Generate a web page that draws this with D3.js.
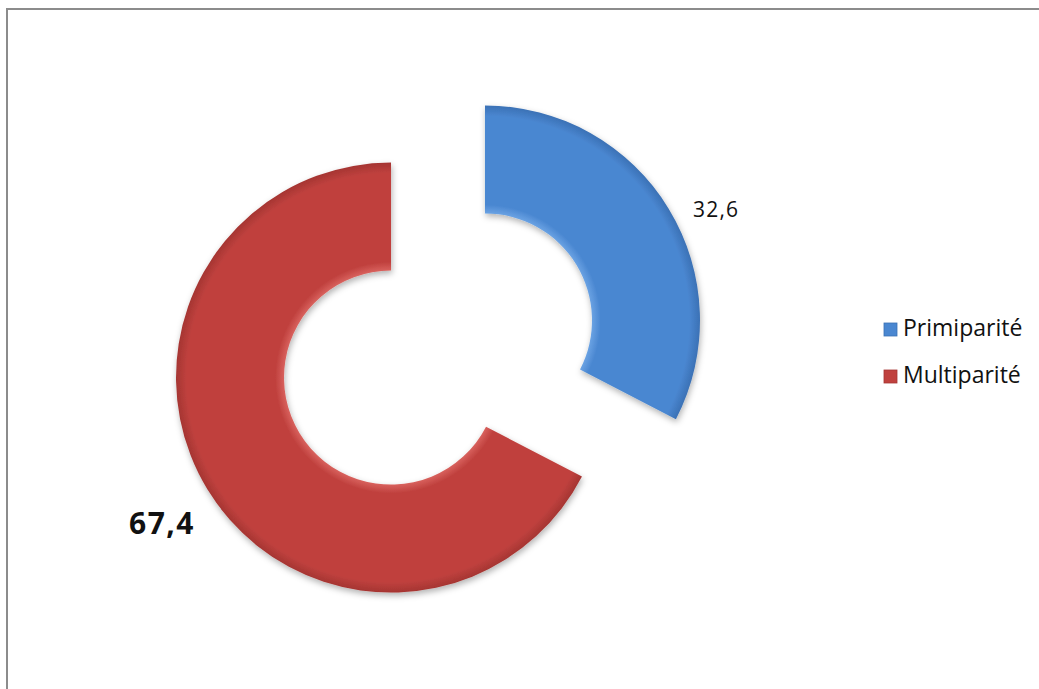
<!DOCTYPE html>
<html>
<head>
<meta charset="utf-8">
<script src="https://cdn.jsdelivr.net/npm/d3@7"></script>
<style>
  html, body { margin: 0; padding: 0; background: #fff; }
  svg { display: block; }
</style>
</head>
<body>
<svg id="chart" width="1039" height="689"></svg>
<script>
const categories = ["Primiparité", "Multiparité"];
const values = [32.6, 67.4];
const labels = ["32,6", "67,4"];
const colors = ["#4a87d1", "#c0413e"];
const lightColors = ["#6aa2e3", "#d8615d"];
const darkColors = ["#3b71b5", "#a53532"];

const svg = d3.select("#chart");
const W = 1039, H = 689;

// frame
svg.append("rect").attr("x", 7).attr("y", 9).attr("width", W).attr("height", H)
  .attr("fill", "#fff").attr("stroke", "#8c8c8c").attr("stroke-width", 2);

const cx = 438, cy = 349;
const outerR = 215, innerR = 107, explode = 55;

const defs = svg.append("defs");
const shadow = defs.append("filter").attr("id", "shadow")
  .attr("x", "-20%").attr("y", "-20%").attr("width", "140%").attr("height", "140%");
shadow.append("feDropShadow").attr("dx", 1).attr("dy", 3).attr("stdDeviation", 3)
  .attr("flood-color", "#000").attr("flood-opacity", 0.3);

const pie = d3.pie().sort(null).value(d => d)(values);
const arc = d3.arc().innerRadius(innerR).outerRadius(outerR);

const g = svg.append("g").attr("transform", `translate(${cx},${cy})`);

pie.forEach((p, i) => {
  const mid = (p.startAngle + p.endAngle) / 2;
  const ox = Math.sin(mid) * explode, oy = -Math.cos(mid) * explode;
  const grad = defs.append("radialGradient").attr("id", "g" + i)
    .attr("gradientUnits", "userSpaceOnUse").attr("cx", 0).attr("cy", 0).attr("r", outerR);
  const f = innerR / outerR;
  grad.append("stop").attr("offset", f).attr("stop-color", lightColors[i]);
  grad.append("stop").attr("offset", f + 0.04).attr("stop-color", colors[i]);
  grad.append("stop").attr("offset", 0.95).attr("stop-color", colors[i]);
  grad.append("stop").attr("offset", 1).attr("stop-color", darkColors[i]);
  const sg = g.append("g").attr("transform", `translate(${ox},${oy})`);
  sg.append("path").attr("d", arc(p)).attr("fill", `url(#g${i})`)
    .attr("filter", "url(#shadow)");
});

// data labels
const labelFont = "'Open Sans', 'Noto Sans', sans-serif";
svg.append("text").attr("x", 693).attr("y", 217).text(labels[0])
  .attr("font-family", labelFont).attr("font-size", 21).attr("letter-spacing", 1.2).attr("fill", "#111");
svg.append("text").attr("x", 129).attr("y", 534).text(labels[1])
  .attr("font-family", labelFont).attr("font-size", 30).attr("font-weight", "bold")
  .attr("letter-spacing", 1.5).attr("fill", "#111");

// legend
const leg = svg.append("g");
categories.forEach((c, i) => {
  const base = 336 + i * 47;
  leg.append("rect").attr("x", 884).attr("y", base - 13).attr("width", 13).attr("height", 13)
    .attr("fill", colors[i]).attr("stroke", darkColors[i]).attr("stroke-width", 0.8);
  leg.append("text").attr("x", 903).attr("y", base).text(c)
    .attr("font-family", labelFont).attr("font-size", 23).attr("fill", "#111");
});
</script>
</body>
</html>
